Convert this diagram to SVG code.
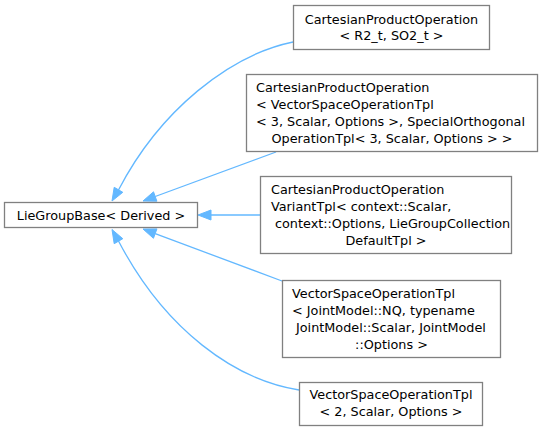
<svg xmlns="http://www.w3.org/2000/svg" width="543" height="431" viewBox="0 0 543 431">
<style>
.box{fill:#ffffff;stroke:#808080;stroke-width:1.3}
text{font-family:"DejaVu Sans",sans-serif;font-size:12.8px;fill:#000000}
.m{text-anchor:middle}
.e{fill:none;stroke:#63b8ff;stroke-width:1.3}
.h{fill:#63b8ff;stroke:#63b8ff;stroke-width:1}
</style>
<rect width="543" height="431" fill="#ffffff"/>
<g id="connectors">
<path class="e" d="M293,42 C230,55 160,110 118.5,190"/>
<polygon class="h" points="112,201 122.8,192.3 114.2,187.3"/>
<path class="e" d="M276,152 L155.2,196.5"/>
<polygon class="h" points="143,201 156.9,201.2 153.5,191.8"/>
<path class="e" d="M260,215 L211,215"/>
<polygon class="h" points="198,215 211,210 211,220"/>
<path class="e" d="M282,281 L155.2,233.6"/>
<polygon class="h" points="143,229 156.95,228.9 153.45,238.3"/>
<path class="e" d="M299,390 C235,380 165,330 118.5,241"/>
<polygon class="h" points="112,229.5 122.8,238.7 114.2,243.7"/>
</g>
<g id="node_base">
<rect class="box" x="4.5" y="202.5" width="193" height="25"/>
<text class="m" x="101" y="219.5">LieGroupBase&lt; Derived &gt;</text>
</g>
<g id="node_r2so2">
<rect class="box" x="293.5" y="5.5" width="196" height="44"/>
<text class="m" x="391.5" y="23.5">CartesianProductOperation</text>
<text class="m" x="391.5" y="39.5">&lt; R2_t, SO2_t &gt;</text>
</g>
<g id="node_se3">
<rect class="box" x="246.5" y="74.5" width="291" height="77"/>
<text x="256" y="92">CartesianProductOperation</text>
<text x="256" y="109">&lt; VectorSpaceOperationTpl</text>
<text x="256" y="126">&lt; 3, Scalar, Options &gt;, SpecialOrthogonal</text>
<text class="m" x="392" y="143">OperationTpl&lt; 3, Scalar, Options &gt; &gt;</text>
</g>
<g id="node_variant">
<rect class="box" x="260.5" y="176.5" width="251" height="77"/>
<text x="271" y="194">CartesianProductOperation</text>
<text x="271" y="211">VariantTpl&lt; context::Scalar,</text>
<text x="275" y="228">context::Options, LieGroupCollection</text>
<text class="m" x="386" y="245">DefaultTpl &gt;</text>
</g>
<g id="node_vsjoint">
<rect class="box" x="282.5" y="280.5" width="218" height="77"/>
<text x="292" y="298">VectorSpaceOperationTpl</text>
<text x="292" y="315">&lt; JointModel::NQ, typename</text>
<text x="296" y="332">JointModel::Scalar, JointModel</text>
<text class="m" x="391.5" y="349">::Options &gt;</text>
</g>
<g id="node_vs2">
<rect class="box" x="299.5" y="382.5" width="183" height="43"/>
<text class="m" x="391" y="399">VectorSpaceOperationTpl</text>
<text class="m" x="391" y="415.5">&lt; 2, Scalar, Options &gt;</text>
</g>
</svg>
